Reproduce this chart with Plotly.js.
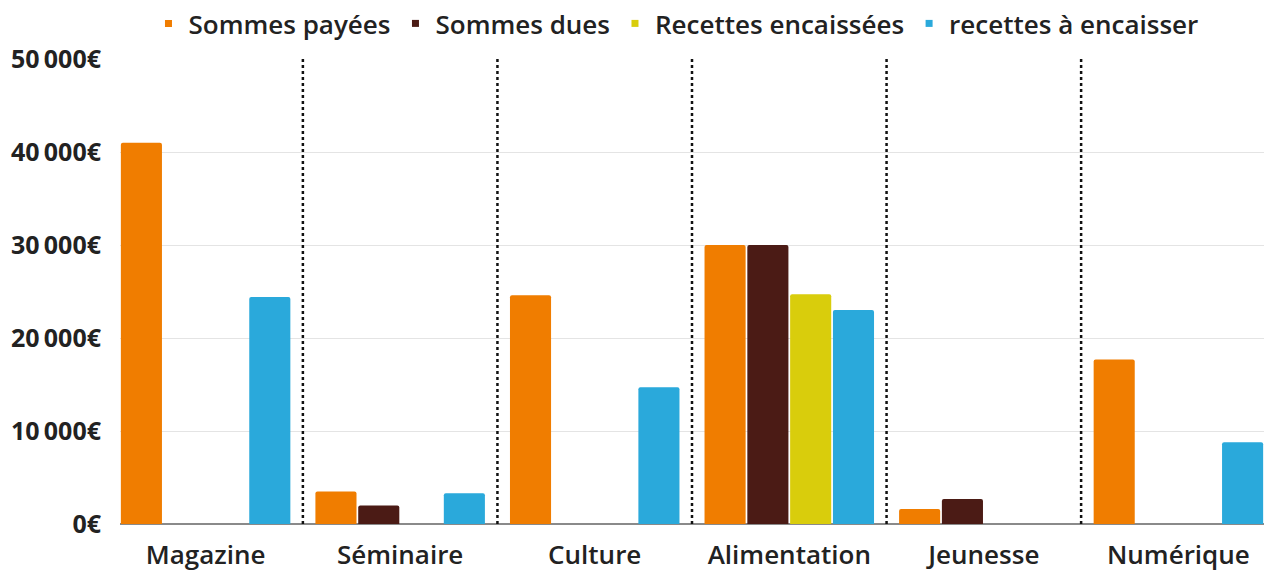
<!DOCTYPE html>
<html>
<head>
<meta charset="utf-8">
<script src="https://cdn.plot.ly/plotly-3.0.1.min.js"></script>
<style>html,body{margin:0;padding:0;background:#fff;}#chart{width:1264px;height:571px;}</style>
</head>
<body>
<div id="chart"></div>
<script>
const categories = ["Magazine", "Séminaire", "Culture", "Alimentation", "Jeunesse", "Numérique"];
const seriesNames = ["Sommes payées", "Sommes dues", "Recettes encaissées", "recettes à encaisser"];
const sommesPayees = [41000, 3500, 24600, 30000, 1600, 17700];
const sommesDues = [0, 2000, 0, 30000, 2700, 0];
const recettesEncaissees = [0, 0, 0, 24700, 0, 0];
const recettesAEncaisser = [24400, 3300, 14700, 23000, 0, 8800];
const tickValues = [0, 10000, 20000, 30000, 40000, 50000];
const tickLabels = ["0€", "10\u2009000€", "20\u2009000€", "30\u2009000€", "40\u2009000€", "50\u2009000€"];
const colors = ["#f07d00", "#4b1b15", "#d9cd0c", "#2aa9db"];

const allValues = [sommesPayees, sommesDues, recettesEncaissees, recettesAEncaisser];
const traces = [];
allValues.forEach((vals, i) => {
  traces.push({
    type: "bar", x: categories, y: vals, name: seriesNames[i],
    marker: {color: colors[i], line: {width: 0}, cornerradius: 2},
    showlegend: false, hoverinfo: "x+y+name"
  });
});
seriesNames.forEach((n, i) => {
  traces.push({
    type: "scatter", mode: "markers", x: [null], y: [null], name: n,
    marker: {symbol: "square", size: 7, color: colors[i]},
    showlegend: true, hoverinfo: "skip"
  });
});

const shapes = [];
for (let i = 0; i < categories.length - 1; i++) {
  shapes.push({
    type: "line", xref: "x", yref: "paper", x0: i + 0.5, x1: i + 0.5, y0: 0, y1: 1,
    line: {color: "#111", width: 2.5, dash: "dot"}
  });
}

const layout = {
  width: 1264, height: 571,
  margin: {l: 120, r: 0, t: 56, b: 47},
  paper_bgcolor: "#fff", plot_bgcolor: "#fff",
  barmode: "group", bargap: 0.12, bargroupgap: 0.04,
  font: {family: "Open Sans, sans-serif", color: "#222"},
  xaxis: {
    type: "category", range: [-0.44, 5.44], showgrid: false, zeroline: false,
    showline: false, ticks: "", ticklabelstandoff: 13,
    tickfont: {size: 26, weight: 600, color: "#222"}
  },
  yaxis: {
    range: [0, 50000], tickvals: tickValues, ticktext: tickLabels,
    showgrid: true, gridcolor: "#e4e4e4", gridwidth: 1,
    zeroline: true, zerolinecolor: "#8a8a8a", zerolinewidth: 2,
    ticks: "", ticklabelstandoff: 18,
    tickfont: {size: 25, weight: 700, color: "#222"}
  },
  legend: {
    orientation: "h", x: 0.486, xanchor: "center", y: 1.026, yanchor: "bottom",
    font: {size: 26, weight: 600, color: "#222"}, itemwidth: 30,
    bgcolor: "rgba(0,0,0,0)"
  },
  shapes: shapes
};

Plotly.newPlot("chart", traces, layout, {displayModeBar: false, staticPlot: true});
</script>
</body>
</html>
